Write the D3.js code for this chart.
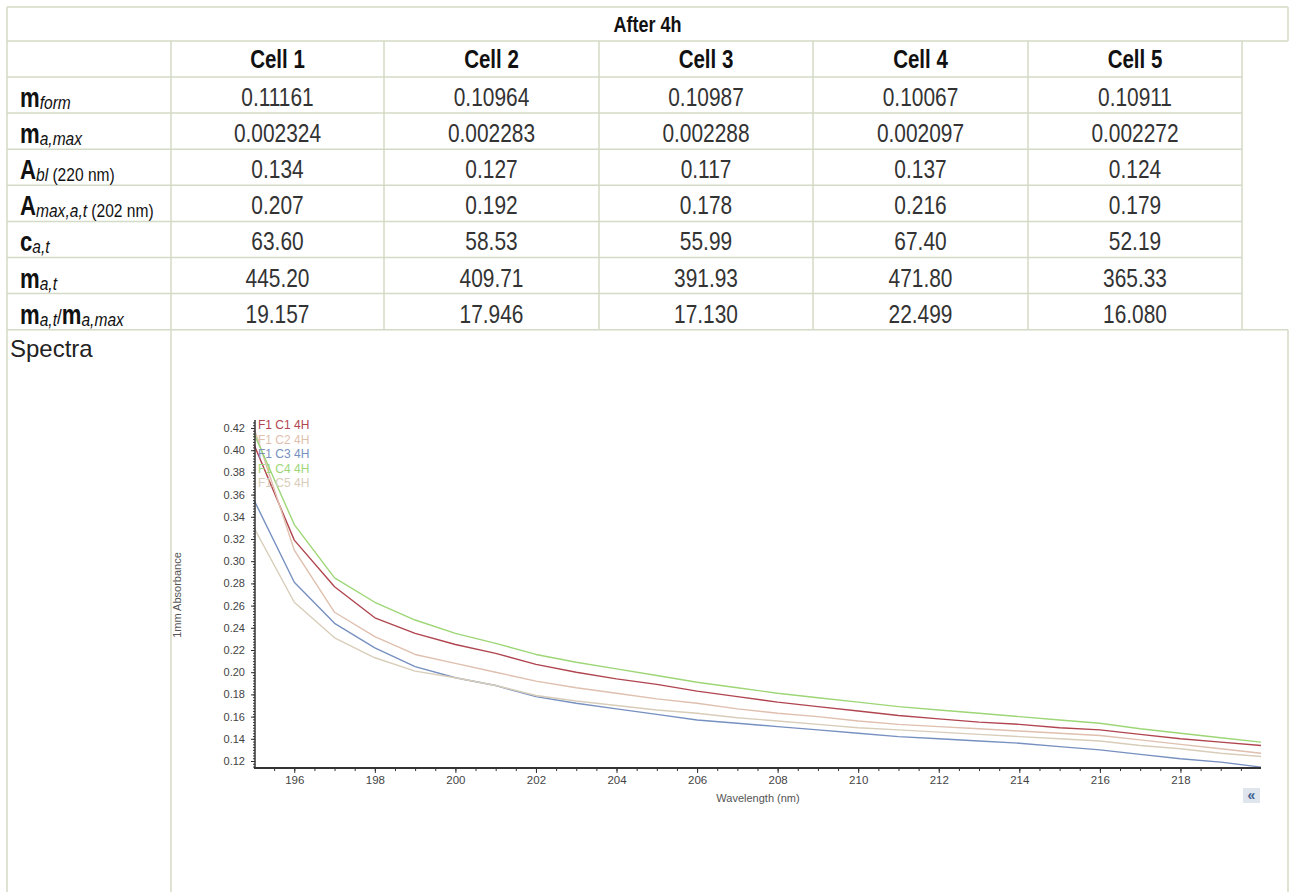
<!DOCTYPE html>
<html><head><meta charset="utf-8">
<script src="https://cdn.jsdelivr.net/npm/d3@7"></script>
<style>body{margin:0;background:#fff} svg{display:block}</style>
</head><body><svg id="c" width="1293" height="893"></svg>
<script>
// ---------- DATA ----------
const title = "After 4h";
const cellNames = ["Cell 1","Cell 2","Cell 3","Cell 4","Cell 5"];
const rowLabels = [
  [["m","b"],["form","i"]],
  [["m","b"],["a,max","i"]],
  [["A","b"],["bl","i"],[" (220 nm)","r"]],
  [["A","b"],["max,a,t","i"],[" (202 nm)","r"]],
  [["c","b"],["a,t","i"]],
  [["m","b"],["a,t","i"]],
  [["m","b"],["a,t","i"],["/","s"],["m","b"],["a,max","i"]]
];
const mForm  = ["0.11161","0.10964","0.10987","0.10067","0.10911"];
const maMax  = ["0.002324","0.002283","0.002288","0.002097","0.002272"];
const aBl    = ["0.134","0.127","0.117","0.137","0.124"];
const aMax   = ["0.207","0.192","0.178","0.216","0.179"];
const cAt    = ["63.60","58.53","55.99","67.40","52.19"];
const mAt    = ["445.20","409.71","391.93","471.80","365.33"];
const ratio  = ["19.157","17.946","17.130","22.499","16.080"];
const spectraLabel = "Spectra";

const wavelengths = [195,196,197,198,199,200,201,202,203,204,205,206,207,208,209,210,211,212,213,214,215,216,217,218,219,220];
const seriesNames = ["F1 C1 4H","F1 C2 4H","F1 C3 4H","F1 C4 4H","F1 C5 4H"];
const c1 = [0.405,0.319,0.277,0.249,0.235,0.225,0.217,0.207,0.200,0.194,0.189,0.183,0.178,0.173,0.169,0.165,0.161,0.158,0.155,0.153,0.150,0.148,0.144,0.140,0.137,0.134];
const c2 = [0.420,0.310,0.254,0.232,0.216,0.208,0.200,0.192,0.186,0.181,0.176,0.172,0.167,0.163,0.160,0.156,0.153,0.151,0.149,0.147,0.145,0.143,0.139,0.135,0.131,0.127];
const c3 = [0.355,0.281,0.244,0.222,0.205,0.195,0.188,0.178,0.172,0.167,0.162,0.157,0.154,0.151,0.148,0.145,0.142,0.140,0.138,0.136,0.133,0.130,0.126,0.122,0.119,0.1145];
const c4 = [0.415,0.333,0.285,0.263,0.247,0.235,0.226,0.216,0.209,0.203,0.197,0.191,0.186,0.181,0.177,0.173,0.169,0.166,0.163,0.160,0.157,0.154,0.149,0.145,0.141,0.137];
const c5 = [0.330,0.263,0.231,0.213,0.201,0.195,0.188,0.179,0.174,0.170,0.166,0.163,0.159,0.156,0.153,0.150,0.148,0.146,0.144,0.142,0.140,0.138,0.134,0.131,0.127,0.124];
const yTickValues = [0.12,0.14,0.16,0.18,0.20,0.22,0.24,0.26,0.28,0.30,0.32,0.34,0.36,0.38,0.40,0.42];
const xTickValues = [196,198,200,202,204,206,208,210,212,214,216,218];
const xTitle = "Wavelength (nm)";
const yTitle = "1mm Absorbance";

// ---------- STYLE / LAYOUT ----------
const seriesColors = ["#b0454f","#dfbfae","#7690c0","#9dd676","#d8cdb9"];
const series = [c1,c2,c3,c4,c5];
const tableRows = [mForm,maMax,aBl,aMax,cAt,mAt,ratio];
const svg = d3.select("#c");
const border = "#d3dac6";
const colX = [7,171,384,599,813,1028,1242];
const rightX = 1288;
const titleTop = 7, headTop = 41, dataTop = 77, rowH = 36.1;
const dataBottom = dataTop + rowH*7;
const bottomY = 892;
const SX = 0.82;
const tf = "'Liberation Sans', Arial, sans-serif";

const g = svg.append("g");
// borders
const lines = [];
lines.push([colX[0], titleTop, rightX, titleTop]);
lines.push([colX[0], headTop, rightX, headTop]);
for (let i=0;i<=7;i++){ const y=dataTop+rowH*i; lines.push([colX[0], y, i===7?rightX:colX[6], y]); }
lines.push([colX[0], titleTop, colX[0], bottomY]);
lines.push([rightX, titleTop, rightX, headTop]);
lines.push([rightX, dataBottom, rightX, bottomY]);
lines.push([colX[1], headTop, colX[1], bottomY]);
for (let i=2;i<=6;i++) lines.push([colX[i], headTop, colX[i], dataBottom]);
g.selectAll("line.b").data(lines).join("line")
  .attr("x1",d=>d[0]).attr("y1",d=>d[1]).attr("x2",d=>d[2]).attr("y2",d=>d[3])
  .attr("stroke",border).attr("stroke-width",1.5);

// title
g.append("text").attr("transform",`translate(${(colX[0]+rightX)/2},32) scale(${SX},1)`)
  .attr("text-anchor","middle").attr("font-family",tf).attr("font-weight","bold")
  .attr("font-size",22).attr("fill","#111").text(title);
// header
cellNames.forEach((n,i)=>{
  g.append("text").attr("transform",`translate(${(colX[i+1]+colX[i+2])/2},${headTop+27}) scale(${SX},1)`)
    .attr("text-anchor","middle").attr("font-family",tf).attr("font-weight","bold")
    .attr("font-size",25).attr("fill","#111").text(n);
});
// rows
tableRows.forEach((vals,r)=>{
  const top = dataTop + rowH*r;
  vals.forEach((v,i)=>{
    g.append("text").attr("transform",`translate(${(colX[i+1]+colX[i+2])/2},${top+29}) scale(${SX},1)`)
      .attr("text-anchor","middle").attr("font-family",tf)
      .attr("font-size",25.5).attr("fill","#333").text(v);
  });
  const t = g.append("text").attr("transform",`translate(20,${top+30}) scale(${SX},1)`)
    .attr("font-family",tf).attr("fill","#111");
  rowLabels[r].forEach(([txt,k])=>{
    const ts = t.append("tspan").attr("xml:space","preserve").text(txt);
    if (k==="b") ts.attr("y",0).attr("font-size",27).attr("font-weight","bold");
    else if (k==="s") ts.attr("y",0).attr("font-size",21).attr("font-weight","normal");
    else if (k==="i") ts.attr("y",2).attr("font-size",19).attr("font-style","italic");
    else ts.attr("y",2).attr("font-size",19);
  });
});
g.append("text").attr("x",10).attr("y",357).attr("font-family",tf).attr("font-size",24)
  .attr("fill","#222").text(spectraLabel);

// ---------- CHART ----------
const cf = "'Liberation Sans', Arial, sans-serif";
const x = d3.scaleLinear().domain([195,220]).range([254,1261]);
const y = d3.scaleLinear().domain([0.1137,0.4272]).range([768,420]);
const ch = svg.append("g");

const line = d3.line().x((d,i)=>x(wavelengths[i])).y(d=>y(d));
series.forEach((s,k)=>{
  ch.append("path").datum(s).attr("d",line).attr("fill","none")
    .attr("stroke",seriesColors[k]).attr("stroke-width",1.4).attr("stroke-linejoin","round");
});

// y axis
const yAxis = d3.axisLeft(y).tickValues(yTickValues).tickFormat(d3.format(".2f")).tickSize(4).tickPadding(6);
const yMinor = d3.axisLeft(y).tickValues(d3.range(0.115,0.4271,0.0025)).tickFormat("").tickSize(2);
const ya = ch.append("g").attr("transform","translate(255,0)").call(yAxis);
ch.append("g").attr("transform","translate(255,0)").call(yMinor).call(a=>a.select(".domain").remove());
ya.select(".domain").attr("d","M0,420V768").attr("stroke","#333").attr("stroke-width",1.5);
ya.selectAll("text").attr("font-family",cf).attr("font-size",11).attr("fill","#444");
ch.selectAll(".tick line").attr("stroke","#333");

// x axis
const xAxis = d3.axisBottom(x).tickValues(xTickValues).tickFormat(d3.format("d")).tickSize(5).tickPadding(3);
const xMinor = d3.axisBottom(x).tickValues(d3.range(195.5,220,0.5)).tickFormat("").tickSize(3);
const xa = ch.append("g").attr("transform","translate(0,768)").call(xAxis);
ch.append("g").attr("transform","translate(0,768)").call(xMinor).call(a=>a.select(".domain").remove());
xa.select(".domain").attr("d","M254,0H1261").attr("stroke","#333").attr("stroke-width",2);
xa.selectAll("text").attr("font-family",cf).attr("font-size",11.5).attr("fill","#444");
ch.selectAll(".tick line").attr("stroke","#333");

// axis titles
ch.append("text").attr("x",758).attr("y",802).attr("text-anchor","middle")
  .attr("font-family",cf).attr("font-size",11).attr("fill","#555").text(xTitle);
ch.append("text").attr("transform","translate(181,595) rotate(-90)").attr("text-anchor","middle")
  .attr("font-family",cf).attr("font-size",11).attr("fill","#555").text(yTitle);

// legend
seriesNames.forEach((n,k)=>{
  ch.append("text").attr("x",258).attr("y",429+k*14.5).attr("font-family",cf)
    .attr("font-size",12).attr("fill",seriesColors[k]).text(n);
});

// collapse button
ch.append("rect").attr("x",1243).attr("y",788).attr("width",17).attr("height",15).attr("fill","#dfe5ec");
ch.append("text").attr("x",1251.5).attr("y",800).attr("text-anchor","middle").attr("font-family",cf)
  .attr("font-size",14).attr("font-weight","bold").attr("fill","#3d5f93").text("\u00AB");
</script></body></html>
